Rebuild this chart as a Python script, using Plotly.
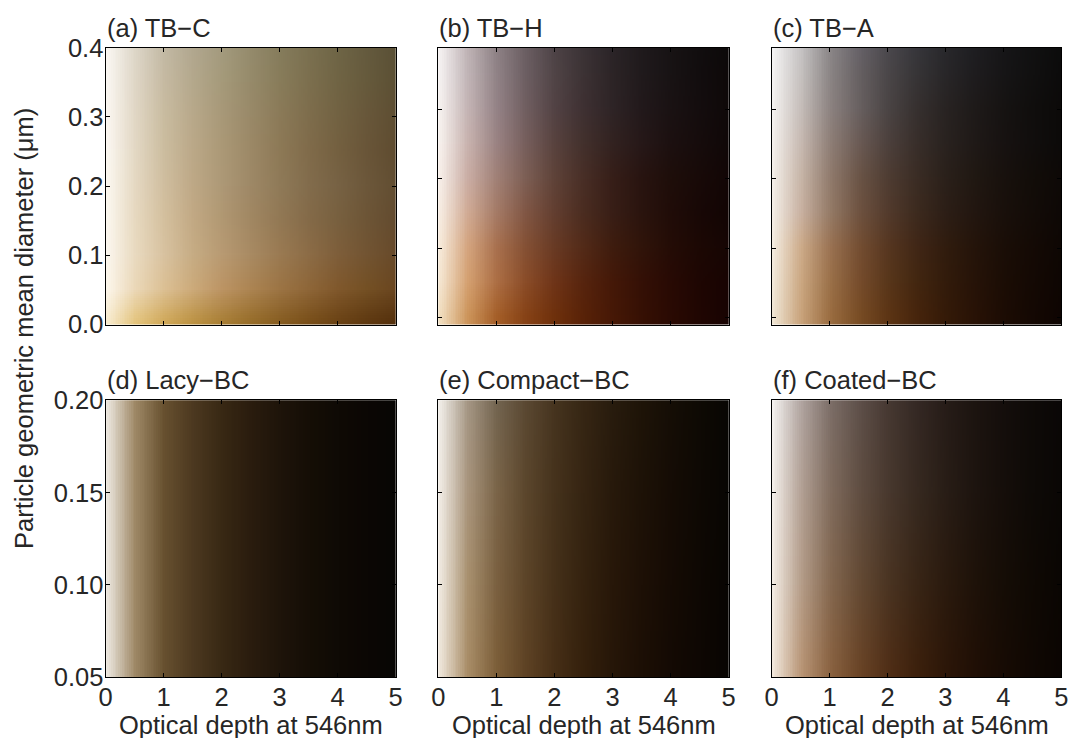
import zlib, struct, base64
import plotly.graph_objects as go

# ---------------- data ----------------
tau = [0.0, 0.5, 1.0, 1.5, 2.0, 2.5, 3.0, 3.5, 4.0, 4.5, 5.0]          # optical depth samples
d_top = [0.0, 0.05, 0.10, 0.15, 0.20, 0.25, 0.30, 0.35, 0.40]          # diameter samples (top row)
d_bot = [0.05, 0.10, 0.15, 0.20]                                       # diameter samples (bottom row)

panel_titles = ["(a) TB\u2212C", "(b) TB\u2212H", "(c) TB\u2212A",
                "(d) Lacy\u2212BC", "(e) Compact\u2212BC", "(f) Coated\u2212BC"]
top_ticks_a = [0.0, 0.1, 0.2, 0.3, 0.4]
bot_ticks = [0.05, 0.10, 0.15, 0.20]
x_ticks = [0, 1, 2, 3, 4, 5]

# colours: one row per diameter sample (lowest diameter first), one entry per tau sample
tbc_colors = [
    ["#f8ecd0", "#e4c47c", "#d0a858", "#bc9242", "#a87e34", "#966c28", "#865c20", "#784e18", "#6a4214", "#5e3810", "#54300c"],
    ["#fdf7ec", "#ebd8b8", "#dcc094", "#ccaa7a", "#bc9464", "#ac8452", "#9c7444", "#8e6638", "#80582c", "#745024", "#6a4620"],
    ["#fcf7ef", "#e9dac0", "#d8c2a0", "#c6ac84", "#b89a72", "#a88a62", "#9a7a52", "#8c6c46", "#7e5e3a", "#725432", "#684a2a"],
    ["#fcf8f0", "#e7d9c0", "#d4c09e", "#c2a984", "#b19872", "#a18762", "#927854", "#846a48", "#78603f", "#6d5536", "#634b2f"],
    ["#fcf8f1", "#e5d8c2", "#d0be9f", "#bea886", "#ad9876", "#9e8866", "#8f7a58", "#826c4c", "#776244", "#6c573a", "#624e32"],
    ["#fcf8f2", "#e3d8c4", "#ccbd9f", "#bba888", "#ab9876", "#9c8866", "#8d7956", "#806b4a", "#746040", "#695538", "#5f4c30"],
    ["#fcf8f2", "#e1d7c5", "#c9bca0", "#b8a88a", "#a89878", "#998968", "#8b7a58", "#7e6d4c", "#726242", "#68573a", "#5e4e32"],
    ["#fbf8f3", "#dfd6c6", "#c6baa2", "#b4a88c", "#a59a7a", "#968a6a", "#887c5a", "#7c6f4e", "#706444", "#665a3c", "#5c5034"],
    ["#fbf8f3", "#ddd6c8", "#c2b9a4", "#b1a78f", "#a39a7e", "#948a6c", "#857c5c", "#7a7050", "#6e6546", "#645a3e", "#5a5036"],
]
tbh_colors = [
    ["#f2e0c2", "#cc945a", "#a45e28", "#864216", "#6e300c", "#582208", "#461806", "#361004", "#2a0a03", "#200602", "#180402"],
    ["#f6e8d4", "#d4a070", "#ac6e44", "#8a4c28", "#6e3418", "#56240e", "#441808", "#341006", "#280a04", "#1e0603", "#180402"],
    ["#f8ecdc", "#d4a47e", "#a8704e", "#845034", "#683a24", "#522a18", "#3e1c0e", "#30140a", "#240c06", "#1c0804", "#160604"],
    ["#f8eee4", "#d0aa94", "#a47a66", "#805644", "#623e30", "#4a2c20", "#381e16", "#2a140e", "#200c08", "#180806", "#120504"],
    ["#f8f0ea", "#caada4", "#a08076", "#7c5e54", "#5e4238", "#482e26", "#361e18", "#281410", "#1e0e0a", "#180a08", "#120606"],
    ["#f8f2ee", "#c8b2ae", "#9a8282", "#765e5c", "#58423e", "#42302c", "#322220", "#261818", "#1c1010", "#160c0c", "#100808"],
    ["#f7f2f0", "#c4b4b4", "#948286", "#705e60", "#524244", "#3e3032", "#2e2426", "#22191b", "#1a1213", "#140d0e", "#0f0909"],
    ["#f6f2f2", "#c0b4b6", "#908286", "#6c5e62", "#504446", "#3c3234", "#2c2426", "#201a1c", "#181314", "#120d0e", "#0e0909"],
    ["#f6f3f3", "#beb2b4", "#8c8084", "#6a5e62", "#4c4246", "#3a3236", "#2a2428", "#1f1a1c", "#171314", "#110e0f", "#0c0a0a"],
]
tba_colors = [
    ["#f0e6d4", "#c8a27a", "#9a6c40", "#784c24", "#5c3414", "#46240c", "#341a08", "#281206", "#1c0c04", "#140803", "#0e0502"],
    ["#f2e9da", "#caa680", "#9a7048", "#764c2c", "#58361a", "#422610", "#321b0b", "#261308", "#1b0d05", "#140904", "#0e0603"],
    ["#f4ece0", "#ccaa88", "#9a7252", "#744e32", "#563620", "#402616", "#301c0e", "#24140a", "#1a0e07", "#140a05", "#0e0704"],
    ["#f4eee6", "#c8b0a0", "#947a66", "#6e5240", "#523a2c", "#3c2a1e", "#2c1e16", "#221610", "#19100b", "#130c08", "#0e0806"],
    ["#f4efe9", "#c6b4a6", "#907a6c", "#6a5446", "#4e3c32", "#3a2c24", "#2a201a", "#201812", "#18110d", "#120d09", "#0e0907"],
    ["#f4f0ec", "#c6b8b0", "#8e7e76", "#6a5a54", "#4c403c", "#382e2a", "#29221f", "#1f1917", "#171211", "#110e0d", "#0c0a09"],
    ["#f4f2f0", "#c4bcb8", "#8c8280", "#686060", "#4a4444", "#36302f", "#282322", "#1e1a19", "#161312", "#100e0d", "#0c0a09"],
    ["#f4f3f2", "#c4c0be", "#8a8484", "#666062", "#4a4648", "#363436", "#282628", "#1e1c1e", "#161516", "#111010", "#0c0b0b"],
    ["#f4f4f4", "#c4c2c4", "#8a8688", "#66626a", "#4a484e", "#36363c", "#28282c", "#1e1e22", "#161618", "#111112", "#0c0c0c"],
]
lacy_colors = [
    ["#eeeae2", "#9e8866", "#67502f", "#4c3820", "#382814", "#2a1c0e", "#1e140a", "#150e06", "#0f0a05", "#0b0704", "#080604"],
    ["#eeeae2", "#9e8866", "#67502f", "#4c3820", "#382814", "#2a1c0e", "#1e140a", "#150e06", "#0f0a05", "#0b0704", "#080604"],
    ["#eeeae2", "#9e8866", "#67502f", "#4c3820", "#382814", "#2a1c0e", "#1e140a", "#150e06", "#0f0a05", "#0b0704", "#080604"],
    ["#eeeae2", "#9e8866", "#67502f", "#4c3820", "#382814", "#2a1c0e", "#1e140a", "#150e06", "#0f0a05", "#0b0704", "#080604"],
]
compact_colors = [
    ["#f0e8dc", "#a88c66", "#7c5e38", "#5e4224", "#462e16", "#34200c", "#261608", "#1c0f05", "#140a04", "#0e0703", "#080502"],
    ["#f1ebe2", "#a8906e", "#7a6040", "#5c4428", "#453019", "#34220f", "#271709", "#1d1006", "#150b04", "#0e0803", "#080502"],
    ["#f2ede6", "#a8947c", "#7a6448", "#5b462c", "#45321c", "#352412", "#27190b", "#1d1207", "#150c05", "#0e0904", "#080603"],
    ["#f2efea", "#a49684", "#726450", "#5a4832", "#46341f", "#362614", "#281c0e", "#1e1408", "#150e06", "#0e0a04", "#080604"],
]
coated_colors = [
    ["#f2e8dc", "#b89474", "#8a6240", "#6a4426", "#502e16", "#3c200c", "#2c1608", "#200f05", "#170b04", "#100803", "#0b0502"],
    ["#f3ece4", "#b49c88", "#846850", "#644a34", "#4a3422", "#382516", "#2a1a0e", "#1e1209", "#150d06", "#0f0904", "#0a0603"],
    ["#f4efea", "#b2a094", "#806c5e", "#604e42", "#48382e", "#362920", "#281d16", "#1d140f", "#150e0a", "#0e0a07", "#0a0705"],
    ["#f4f2f0", "#b0a4a0", "#7c6e68", "#5e504a", "#463832", "#342824", "#261c18", "#1c1410", "#140e0c", "#0e0a08", "#0a0706"],
]


def png_uri(rows):
    """Encode a small grid of hex colours (first row = lowest diameter) as a PNG data URI."""
    h, w = len(rows), len(rows[0])
    raw = b"".join(b"\x00" + b"".join(bytes.fromhex(c[1:]) for c in row) for row in rows)

    def chunk(tag, data):
        return (struct.pack(">I", len(data)) + tag + data +
                struct.pack(">I", zlib.crc32(tag + data) & 0xFFFFFFFF))

    png = (b"\x89PNG\r\n\x1a\n" +
           chunk(b"IHDR", struct.pack(">IIBBBBB", w, h, 8, 2, 0, 0, 0)) +
           chunk(b"IDAT", zlib.compress(raw, 9)) + chunk(b"IEND", b""))
    return "data:image/png;base64," + base64.b64encode(png).decode()


W, H = 1069, 738
FONT = "Liberation Sans, Arial, Helvetica, sans-serif"
TXT = "#262626"
FS = 25.5


def px_x(p):
    return p / W


def px_y(p):
    return 1 - p / H


# panel placement (reference pixels)
col_px = [(105.5, 395.7), (438.3, 728.7), (771.7, 1061.3)]
row_px = [(47.7, 324.5), (400.3, 677.3)]

fig = go.Figure()

panels = [
    (tbc_colors, d_top), (tbh_colors, d_top), (tba_colors, d_top),
    (lacy_colors, d_bot), (compact_colors, d_bot), (coated_colors, d_bot),
]
y_ranges = [[0.0, 0.4], [-0.0098, 0.389], [-0.0098, 0.389],
            [0.05, 0.20], [0.05, 0.20], [0.05, 0.20]]

for i, (cols, dvals) in enumerate(panels):
    r, c = divmod(i, 3)
    n = i + 1
    xa = "x" if n == 1 else f"x{n}"
    ya = "y" if n == 1 else f"y{n}"
    fig.add_trace(go.Image(
        source=png_uri(cols), zsmooth="fast",
        x0=tau[0], dx=tau[1] - tau[0], y0=dvals[0], dy=dvals[1] - dvals[0],
        xaxis=xa, yaxis=ya, hoverinfo="skip"))

    x0p, x1p = col_px[c]
    y0p, y1p = row_px[r]
    xdom = [px_x(x0p), px_x(x1p)]
    ydom = [px_y(y1p), px_y(y0p)]
    common = dict(showline=True, linecolor="black", linewidth=1, mirror="ticks",
                  ticks="inside", ticklen=4, tickwidth=1, tickcolor="black",
                  showgrid=False, zeroline=False, automargin=False,
                  tickfont=dict(family=FONT, size=FS, color=TXT))
    fig.layout[f"xaxis{n if n > 1 else ''}"] = dict(
        domain=xdom, range=[0, 5], tickvals=x_ticks, anchor=ya, constrain="range",
        showticklabels=(r == 1), ticklabeloverflow="allow", ticklabelstandoff=-3, **common)
    if r == 0:
        tv, fmt = top_ticks_a, ".1f"
    else:
        tv, fmt = bot_ticks, ".2f"
    fig.layout[f"yaxis{n if n > 1 else ''}"] = dict(
        domain=ydom, range=y_ranges[i], tickvals=tv, tickformat=fmt, anchor=xa,
        scaleanchor=False, constrain="range", autorange=False,
        ticklabelstandoff=-4, showticklabels=(c == 0), **common)

    # panel title
    fig.add_annotation(text=panel_titles[i], xref="paper", yref="paper",
                       x=px_x(x0p - 1), y=px_y(y0p - 20), xanchor="left", yanchor="middle",
                       showarrow=False, font=dict(family=FONT, size=FS, color=TXT))
    if r == 1:
        fig.add_annotation(text="Optical depth at 546nm", xref="paper", yref="paper",
                           x=px_x((x0p + x1p) / 2), y=px_y(724.5), xanchor="center", yanchor="middle",
                           showarrow=False, font=dict(family=FONT, size=FS, color=TXT))

fig.add_annotation(text="Particle geometric mean diameter (\u03bcm)", xref="paper", yref="paper",
                   x=px_x(24), y=px_y(329), xanchor="center", yanchor="middle", textangle=-90,
                   showarrow=False, font=dict(family=FONT, size=FS, color=TXT))

fig.update_layout(width=W, height=H, margin=dict(l=0, r=0, t=0, b=0, pad=0, autoexpand=False),
                  paper_bgcolor="white", plot_bgcolor="white", showlegend=False)

# remove the default page margin so the figure fills the 1069x738 window exactly
fig.write_html("out.html", config={"displayModeBar": False},
               post_script="document.body.style.margin='0';document.body.style.overflow='hidden';")
